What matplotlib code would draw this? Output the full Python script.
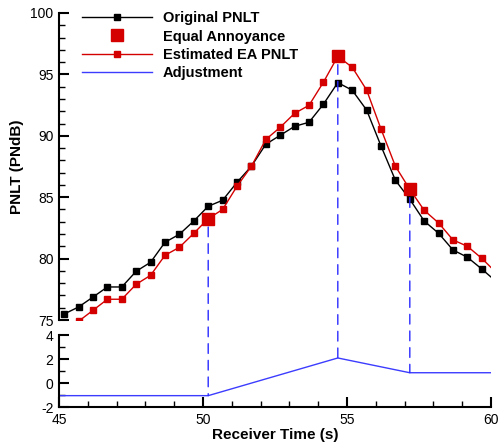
import matplotlib
matplotlib.use("Agg")
import matplotlib.pyplot as plt
from matplotlib.patches import ConnectionPatch
from matplotlib.ticker import MultipleLocator

plt.rcParams['font.family'] = ['Liberation Sans', 'DejaVu Sans']
plt.rcParams['axes.unicode_minus'] = False

# data
t_orig = [45.18, 45.68, 46.18, 46.68, 47.18, 47.68, 48.18, 48.68, 49.18, 49.68,
          50.18, 50.68, 51.18, 51.68, 52.18, 52.68, 53.18, 53.68, 54.18, 54.68,
          55.18, 55.68, 56.18, 56.68, 57.18, 57.68, 58.18, 58.68, 59.18, 59.68, 60.18]
pnlt_orig = [75.49, 76.06, 76.87, 77.69, 77.69, 78.97, 79.70, 81.33, 81.98, 83.06,
             84.26, 84.75, 86.21, 87.52, 89.31, 90.04, 90.77, 91.10, 92.57, 94.33,
             93.71, 92.10, 89.17, 86.38, 84.83, 83.06, 82.06, 80.70, 80.11, 79.15, 78.13]
t_est = [45.68, 46.18, 46.68, 47.18, 47.68, 48.18, 48.68, 49.18, 49.68,
         50.18, 50.68, 51.18, 51.68, 52.18, 52.68, 53.18, 53.68, 54.18, 54.68,
         55.18, 55.68, 56.18, 56.68, 57.18, 57.68, 58.18, 58.68, 59.18, 59.68, 60.18]
pnlt_est = [74.90, 75.79, 76.69, 76.69, 77.91, 78.64, 80.27, 80.92, 82.06,
            83.25, 84.00, 85.89, 87.52, 89.70, 90.69, 91.83, 92.48, 94.36, 96.47,
            95.58, 93.73, 90.55, 87.52, 85.64, 83.93, 82.90, 81.52, 81.00, 80.02, 78.86]
t_ea = [50.18, 54.68, 57.18]
pnlt_ea = [83.25, 96.47, 85.64]
t_adj = [45.0, 50.18, 54.68, 57.18, 60.0]
adj = [-1.03, -1.03, 2.11, 0.88, 0.88]
adj_at_ea = [-1.03, 2.11, 0.88]

red = "#d40000"
blue = "#3c3cff"

fig = plt.figure(figsize=(4.98, 4.46), dpi=100)
ax1 = fig.add_axes([0.1185, 0.2825, 0.8675, 0.6884])
ax2 = fig.add_axes([0.1185, 0.0868, 0.8675, 0.1614])

ax1.plot(t_orig, pnlt_orig, color="black", lw=1, marker="s", ms=3.7, label="Original PNLT")
ax1.plot(t_ea, pnlt_ea, ls="none", color=red, marker="s", ms=8, label="Equal Annoyance", zorder=4)
ax1.plot(t_est, pnlt_est, color=red, lw=1, marker="s", ms=3.7, label="Estimated EA PNLT")
ax1.plot([], [], color=blue, lw=1, label="Adjustment")
ax2.plot(t_adj, adj, color=blue, lw=1)

for x, y1, y2 in zip(t_ea, pnlt_ea, adj_at_ea):
    con = ConnectionPatch(xyA=(x, y1), coordsA=ax1.transData,
                          xyB=(x, y2), coordsB=ax2.transData,
                          color="#2a2aff", lw=1, ls=(0, (7, 5)), shrinkA=6, shrinkB=0)
    fig.add_artist(con)

ax1.set_xlim(45, 60)
ax1.set_ylim(75, 100)
ax2.set_xlim(45, 60)
ax2.set_ylim(-2, 4)

for ax in (ax1, ax2):
    ax.spines['top'].set_visible(False)
    ax.spines['right'].set_visible(False)
    ax.spines['left'].set_linewidth(1.5)
    ax.spines['bottom'].set_linewidth(1.5)
    ax.tick_params(which="major", direction="in", length=7, width=1.5, labelsize=10, pad=4)
    ax.tick_params(which="minor", direction="in", length=4, width=1)
    ax.set_facecolor("none")

ax1.spines['bottom'].set_visible(False)
ax1.tick_params(axis="x", which="both", bottom=False, labelbottom=False)
ax1.yaxis.set_major_locator(MultipleLocator(5))
ax1.yaxis.set_minor_locator(MultipleLocator(1))
ax2.yaxis.set_major_locator(MultipleLocator(2))
ax2.yaxis.set_minor_locator(MultipleLocator(1))
ax2.xaxis.set_major_locator(MultipleLocator(5))
ax2.xaxis.set_minor_locator(MultipleLocator(1))

ax1.set_ylabel("PNLT (PNdB)", fontsize=11, fontweight="bold")
ax1.yaxis.set_label_coords(-0.082, 0.5)
ax2.set_xlabel("Receiver Time (s)", fontsize=11, fontweight="bold", labelpad=1)

ax1.legend(loc="upper left", bbox_to_anchor=(0.04, 1.025), frameon=False,
           prop={"weight": "bold", "size": 10.5}, handlelength=4.8, handletextpad=0.75,
           labelspacing=0.3, borderaxespad=0)

fig.savefig("out.png", dpi=100)
